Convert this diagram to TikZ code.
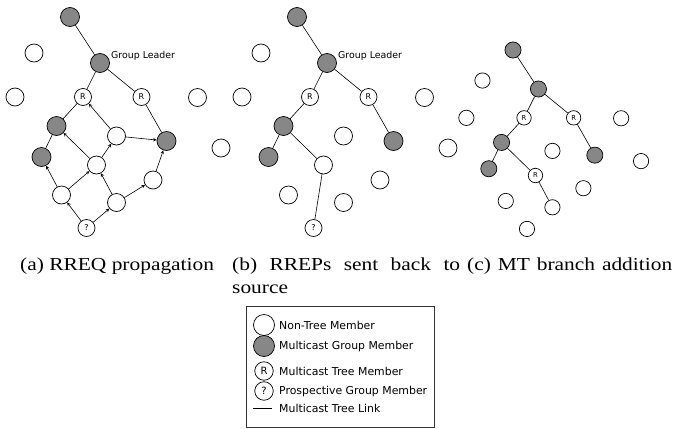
\documentclass[tikz,border=0pt]{standalone}
\usepackage{fontspec}
\setsansfont{DejaVu Sans}
\newfontfamily\capfont[FakeStretch=1.17]{Liberation Serif}
\usepackage{tikz}

\tikzset{
	peer/.style = {circle, draw, line width=0.7pt, fill=white, minimum size=18pt, inner sep=0pt, font=\sffamily\fontsize{8}{8}\selectfont},
	member/.style = {peer, fill=black!47, minimum size=19pt},
	relay/.style = {peer, minimum size=17pt},
	link/.style = {line width=0.6pt},
	hop/.style = {line width=0.6pt, -stealth},
	keytext/.style = {anchor=west, inner sep=0pt, font=\sffamily\fontsize{10.9}{12}\selectfont},
	caption/.style = {anchor=base west, inner sep=0pt, font=\capfont\fontsize{18.3}{22}\selectfont}
}

% #1/#2: style and text of the middle node, #3/#4: style and text of the source node
\newcommand{\meshnodes}[4]{
	\node[member] (root) at (0,0) {};
	\node[peer] (w1) at (-36,36) {};
	\node[member] (lead) at (30,46) {};
	\node[peer] (w2) at (-55,80) {};
	\node[relay] (ra) at (13,80) {R};
	\node[relay] (rb) at (71.5,80) {R};
	\node[peer] (w3) at (127.5,80.5) {};
	\node[member] (ga) at (-13.5,109) {};
	\node[peer] (w4) at (46.5,119) {};
	\node[member] (gb) at (96.5,124) {};
	\node[peer] (w5) at (151,131) {};
	\node[member] (gc) at (-28.5,140) {};
	\node[#1] (mid) at (26.5,148) {#2};
	\node[peer] (w6) at (83,163) {};
	\node[peer] (w7) at (-8.5,178) {};
	\node[peer] (w8) at (46.5,185.5) {};
	\node[#3] (src) at (16.5,211) {#4};
	\foreach \u/\v in {root/lead, lead/ra, lead/rb, ra/ga, ga/gc, rb/gb}
	{
		\draw[link] (\u) -- (\v);
	}
}

\begin{document}
\begin{tikzpicture}[x=1pt, y=-1pt]
	\useasboundingbox (0,0) rectangle (673,429);

	\begin{scope}[shift={(70,17)}, name prefix=a-]
		\meshnodes{peer}{}{relay}{?}
		\node[anchor=west, xshift=4pt, inner sep=0pt, font=\sffamily\fontsize{9.4}{10}\selectfont] (leadtext) at (lead.north east) {Group Leader};
		\foreach \u/\v in {src/w7, src/w8, w7/gc, w7/mid, w8/mid, w8/w6, w6/gb, mid/ga, mid/w4, w4/ra, w4/gb}
		{
			\draw[hop] (\u) -- (\v);
		}
	\end{scope}

	\begin{scope}[shift={(297,17)}, name prefix=b-]
		\meshnodes{peer}{}{relay}{?}
		\node[anchor=west, xshift=4pt, inner sep=0pt, font=\sffamily\fontsize{9.4}{10}\selectfont] (leadtext) at (lead.north east) {Group Leader};
		\draw[link] (ga) -- (mid) -- (src);
	\end{scope}

	\begin{scope}[shift={(513,50)}, scale=0.848, transform shape, name prefix=c-]
		\meshnodes{relay}{R}{peer}{}
		\draw[link] (ga) -- (mid) -- (w8);
	\end{scope}

	\node[caption] (capa) at (20,270) {(a) RREQ propagation};
	\node[caption] (capb) at (232,270) {\makebox[228pt][s]{(b) RREPs sent back to}};
	\node[caption] (capsrc) at (232,293) {source};
	\node[caption] (capc) at (467,270) {\makebox[205pt][s]{(c) MT branch addition}};

	\draw[line width=0.8pt, black!80] (246,306) rectangle (434,427);
	\begin{scope}[font=\sffamily\fontsize{10}{10}\selectfont]
		\node[peer, minimum size=21pt] (keypeer) at (264,325) {};
		\node[member, minimum size=21pt] (keymember) at (264,346) {};
		\node[relay, minimum size=18.5pt, font=\sffamily\fontsize{10}{10}\selectfont] (keyrelay) at (264,371) {R};
		\node[relay, minimum size=18.5pt, font=\sffamily\fontsize{10}{10}\selectfont] (keysrc) at (264,391) {?};
		\coordinate (keylinea) at (253,408);
		\coordinate (keylineb) at (272,408);
		\draw[link] (keylinea) -- (keylineb);
	\end{scope}
	\node[keytext] (keypeertext) at (279,325) {Non-Tree Member};
	\node[keytext] (keymembertext) at (279,346) {Multicast Group Member};
	\node[keytext] (keyrelaytext) at (279,371) {Multicast Tree Member};
	\node[keytext] (keysrctext) at (279,391) {Prospective Group Member};
	\node[keytext] (keylinetext) at (279,408) {Multicast Tree Link};
\end{tikzpicture}
\end{document}
